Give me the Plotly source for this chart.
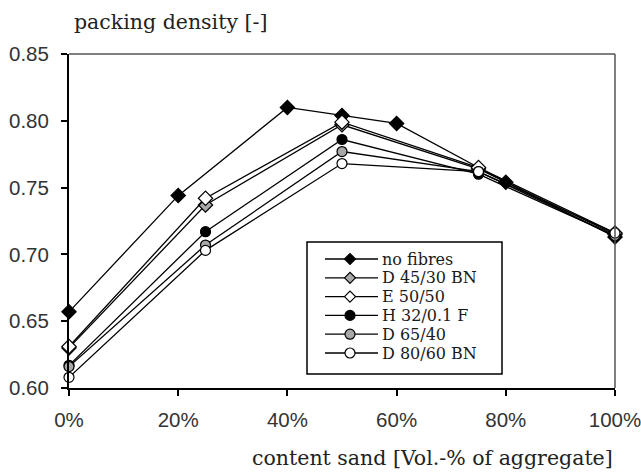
import plotly.graph_objects as go

# sand content [% of aggregate volume]
sand_ref = [0, 20, 40, 50, 60, 80, 100]
sand_fib = [0, 25, 50, 75, 100]

# packing density [-]
no_fibres = [0.657, 0.744, 0.810, 0.804, 0.798, 0.754, 0.713]
d45_30_bn = [0.630, 0.737, 0.797, 0.764, 0.715]
e50_50 = [0.631, 0.742, 0.799, 0.765, 0.716]
h32_01_f = [0.617, 0.717, 0.786, 0.760, 0.714]
d65_40 = [0.616, 0.707, 0.777, 0.762, 0.714]
d80_60_bn = [0.608, 0.703, 0.768, 0.762, 0.716]

y_ticks = [0.60, 0.65, 0.70, 0.75, 0.80, 0.85]
x_ticks = [0, 20, 40, 60, 80, 100]
x_ticktext = ["0%", "20%", "40%", "60%", "80%", "100%"]

GREY = "#a8a8a8"
series = [
    ("no fibres", sand_ref, no_fibres, "diamond", "black"),
    ("D 45/30 BN", sand_fib, d45_30_bn, "diamond", GREY),
    ("E 50/50", sand_fib, e50_50, "diamond", "white"),
    ("H 32/0.1 F", sand_fib, h32_01_f, "circle", "black"),
    ("D 65/40", sand_fib, d65_40, "circle", GREY),
    ("D 80/60 BN", sand_fib, d80_60_bn, "circle", "white"),
]

W, H = 641, 473
M_L, M_R, M_T, M_B = 69, 26, 54, 85
PW, PH = W - M_L - M_R, H - M_T - M_B


def px_x(px):
    return (px - M_L) / PW


def px_y(py):
    return (H - M_B - py) / PH


fig = go.Figure()
for name, xs, ys, sym, fill in series:
    fig.add_trace(go.Scatter(
        x=xs, y=ys, name=name, mode="lines+markers", showlegend=False,
        line=dict(color="black", width=1.3),
        marker=dict(symbol=sym, size=11 if sym == "diamond" else 10,
                    color=fill, line=dict(color="black", width=1.2)),
        cliponaxis=False,
    ))

serif = "DejaVu Serif"
sans = "Liberation Sans"

shapes = [
    dict(type="line", xref="paper", yref="paper", x0=0, x1=1, y0=1, y1=1,
         line=dict(color="#555555", width=1.5)),
    dict(type="line", xref="paper", yref="paper", x0=1, x1=1, y0=0, y1=1,
         line=dict(color="#555555", width=1.5)),
    # legend frame
    dict(type="rect", xref="paper", yref="paper",
         x0=px_x(307), x1=px_x(502), y0=px_y(374), y1=px_y(242),
         fillcolor="white", line=dict(color="black", width=1.5), layer="above"),
]
annotations = [
    dict(text="packing density [-]", xref="paper", yref="paper",
         x=px_x(170), y=px_y(22), xanchor="center", yanchor="middle",
         showarrow=False, font=dict(family=serif, size=20.5, color="#222222")),
    dict(text="content sand [Vol.-% of aggregate]", xref="paper", yref="paper",
         x=px_x(432), y=px_y(458), xanchor="center", yanchor="middle",
         showarrow=False, font=dict(family=serif, size=20.5, color="#222222")),
]

# legend entries: line sample, symbol and label per series
row0, row_step = 259, 18.8
for i, (name, _, _, sym, fill) in enumerate(series):
    cy = px_y(row0 + i * row_step)
    cx = px_x(350)
    shapes.append(dict(type="line", xref="paper", yref="paper",
                       x0=px_x(325), x1=px_x(378), y0=cy, y1=cy,
                       line=dict(color="black", width=1.3), layer="above"))
    if sym == "circle":
        shapes.append(dict(type="circle", xref="paper", yref="paper",
                           xsizemode="pixel", ysizemode="pixel",
                           xanchor=cx, yanchor=cy, x0=-5, x1=5, y0=-5, y1=5,
                           fillcolor=fill, line=dict(color="black", width=1.2),
                           layer="above"))
    else:
        shapes.append(dict(type="path", xref="paper", yref="paper",
                           xsizemode="pixel", ysizemode="pixel",
                           xanchor=cx, yanchor=cy,
                           path="M -5.5 0 L 0 5.5 L 5.5 0 L 0 -5.5 Z",
                           fillcolor=fill, line=dict(color="black", width=1.2),
                           layer="above"))
    annotations.append(dict(text=name, xref="paper", yref="paper",
                            x=px_x(381), y=cy, xanchor="left", yanchor="middle",
                            showarrow=False, borderpad=0,
                            font=dict(family=serif, size=16, color="#1a1a1a")))

fig.update_layout(
    width=W, height=H,
    margin=dict(l=M_L, r=M_R, t=M_T, b=M_B, autoexpand=False),
    plot_bgcolor="white", paper_bgcolor="white",
    showlegend=False,
    xaxis=dict(
        range=[0, 100], tickvals=x_ticks, ticktext=x_ticktext,
        showgrid=False, zeroline=False, automargin=False,
        showline=True, linecolor="black", linewidth=2,
        ticks="outside", ticklen=6, tickcolor="black", tickwidth=1.5,
        ticklabelstandoff=6, ticklabeloverflow="allow",
        tickfont=dict(family=sans, size=20.5, color="#333333"),
    ),
    yaxis=dict(
        range=[0.60, 0.85], tickvals=y_ticks, tickformat=".2f",
        showgrid=False, zeroline=False, automargin=False,
        showline=True, linecolor="black", linewidth=2,
        ticks="outside", ticklen=6, tickcolor="black", tickwidth=1.5,
        ticklabelstandoff=8, ticklabeloverflow="allow",
        tickfont=dict(family=sans, size=20.5, color="#333333"),
    ),
    shapes=shapes,
    annotations=annotations,
)

fig.write_html("out.html")
